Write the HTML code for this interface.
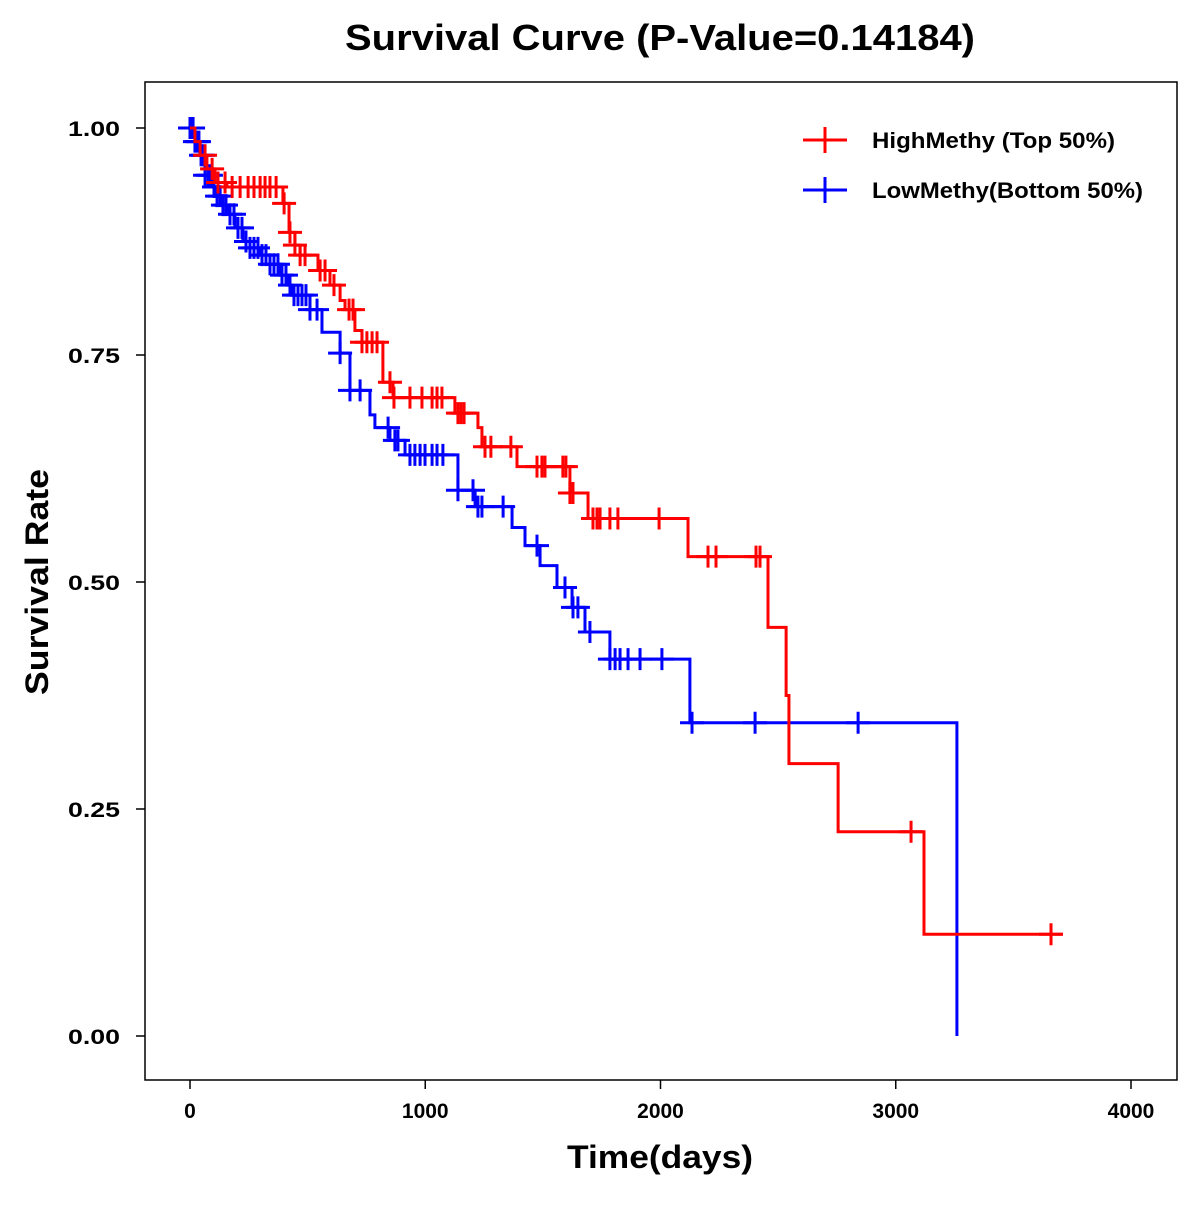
<!DOCTYPE html>
<html><head><meta charset="utf-8"><style>
html,body{margin:0;padding:0;background:#fff;}
svg text{font-family:"Liberation Sans",Arial,sans-serif;font-weight:bold;}
</style></head><body>
<svg id="chart" width="1200" height="1200" viewBox="0 0 1200 1200" xmlns="http://www.w3.org/2000/svg">
<rect width="1200" height="1200" fill="#fff"/>
<text x="345" y="50" font-size="36" textLength="630" lengthAdjust="spacingAndGlyphs">Survival Curve (P-Value=0.14184)</text>
<rect x="145" y="82" width="1032" height="998" fill="none" stroke="#000" stroke-width="1.5"/>
<g id="xticks"></g>
<g id="yticks"></g>
<text x="567" y="1168" font-size="32" textLength="186" lengthAdjust="spacingAndGlyphs">Time(days)</text>
<text transform="translate(48,695) rotate(-90)" font-size="32" textLength="226" lengthAdjust="spacingAndGlyphs">Survival Rate</text>
<g id="series"></g>
<g>
<g>
<line x1="803" y1="140" x2="847" y2="140" stroke="#f00" stroke-width="3"/>
<line x1="825" y1="127" x2="825" y2="153" stroke="#f00" stroke-width="3"/>
<text x="872" y="148" font-size="22" textLength="243" lengthAdjust="spacingAndGlyphs">HighMethy (Top 50%)</text></g>
<g>
<line x1="803" y1="190" x2="847" y2="190" stroke="#00f" stroke-width="3"/>
<line x1="825" y1="177" x2="825" y2="203" stroke="#00f" stroke-width="3"/>
<text x="872" y="198" font-size="22" textLength="271" lengthAdjust="spacingAndGlyphs">LowMethy(Bottom 50%)</text></g>
</g>
</svg>
<script>
const xTicks=[0,1000,2000,3000,4000];
const yTicks=[0,0.25,0.5,0.75,1.0];
const yTickLabels=["0.00","0.25","0.50","0.75","1.00"];
const highStepTimes=[21,43,72,106,157,395,421,446,468,544,595,638,659,701,731,820,863,1126,1224,1241,1390,1615,1692,2117,2457,2534,2546,2755,3120];
const highStepSurv=[.985,.97,.955,.94,.935,.917,.885,.871,.86,.843,.827,.81,.80,.777,.764,.72,.703,.686,.67,.649,.627,.598,.57,.528,.45,.375,.30,.225,.112];
const highEnd=3709;
const highCensor=[64,94,119,149,179,213,247,272,298,319,340,366,400,425,446,468,489,553,574,612,676,693,731,752,774,795,850,867,935,986,1029,1050,1071,1139,1152,1165,1254,1279,1364,1475,1496,1509,1585,1598,1615,1628,1713,1730,1743,1785,1819,1994,2202,2236,2406,2423,3065,3660];
const lowStepTimes=[21,43,64,94,115,136,162,191,225,255,298,340,383,417,434,510,561,638,680,765,786,850,914,1139,1212,1369,1424,1488,1560,1624,1679,1785,2125,3260];
const lowStepSurv=[.985,.97,.948,.935,.925,.915,.905,.89,.875,.868,.86,.85,.838,.827,.816,.80,.775,.752,.711,.684,.67,.656,.64,.601,.583,.56,.54,.518,.494,.472,.445,.415,.345,0];
const lowEnd=3260;
const lowCensor=[0,8,13,21,30,38,47,55,64,77,89,102,115,128,140,153,170,187,204,221,238,255,272,289,306,323,340,357,374,391,408,425,442,459,476,493,510,540,638,680,723,842,871,884,935,956,978,999,1029,1050,1075,1139,1203,1224,1241,1331,1475,1594,1628,1649,1700,1785,1807,1828,1862,1913,2006,2134,2402,2840];

const NS="http://www.w3.org/2000/svg";
const X=t=>190+t*0.23525;
const Y=s=>1036-s*908;
function mk(tag,attrs,parent){const e=document.createElementNS(NS,tag);for(const k in attrs)e.setAttribute(k,attrs[k]);parent.appendChild(e);return e;}
const xg=document.getElementById('xticks'),yg=document.getElementById('yticks'),sg=document.getElementById('series');
xTicks.forEach(v=>{
  const l=mk('line',{x1:X(v),x2:X(v),y1:1080,y2:1089,stroke:'#000','stroke-width':1.5},xg);
  
  
  const t=mk('text',{x:X(v),y:1118,'font-size':21,'text-anchor':'middle'},xg);t.textContent=v;
  
  
});
yTicks.forEach((v,i)=>{
  const l=mk('line',{x1:136,x2:145,y1:Y(v),y2:Y(v),stroke:'#000','stroke-width':1.5},yg);
  
  
  const t=mk('text',{x:68,y:Y(v)+8,'font-size':21,textLength:52,lengthAdjust:'spacingAndGlyphs'},yg);t.textContent=yTickLabels[i];
  
  
});
function survAt(times,surv,t){let s=1;for(let i=0;i<times.length;i++){if(times[i]<=t)s=surv[i];}return s;}
function drawSeries(times,surv,end,cens,color,name){
  const g=mk('g',{},sg);
  
  
  let d='M'+X(0)+','+Y(1);
  times.forEach((t,i)=>{d+=' H'+X(t)+' V'+Y(surv[i]);});
  d+=' H'+X(end);
  const p=mk('path',{d:d,fill:'none',stroke:color,'stroke-width':3},g);
  
  
  cens.forEach(t=>{
    const x=X(t),y=Y(survAt(times,surv,t));
    const c=mk('path',{d:`M${x-12},${y} H${x+12} M${x},${y-11} V${y+11}`,stroke:color,'stroke-width':3,fill:'none'},g);
    
    
  });
}
drawSeries(lowStepTimes,lowStepSurv,lowEnd,lowCensor,'#00f','low-methy-series');
drawSeries(highStepTimes,highStepSurv,highEnd,highCensor,'#f00','high-methy-series');
</script>
</body></html>
